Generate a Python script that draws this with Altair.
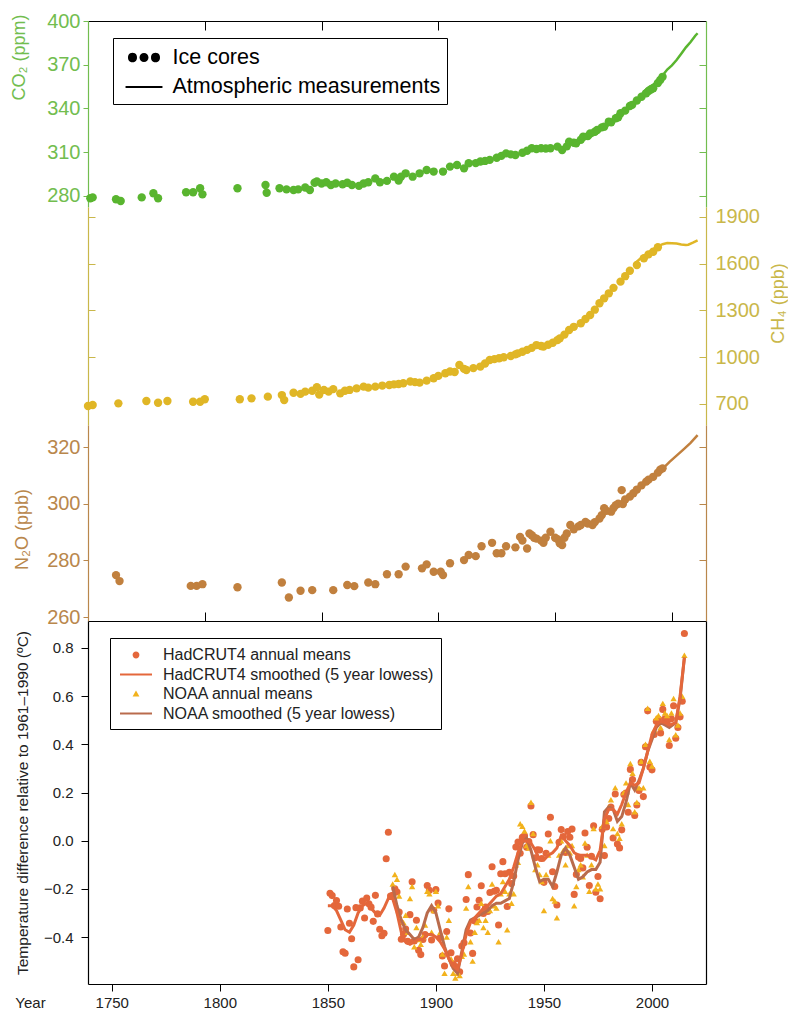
import altair as alt
import pandas as pd

# ---------------- data ----------------
co2_ice_year = [1751, 1752, 1762, 1764, 1773, 1778, 1780, 1792, 1795, 1798, 1799, 1814, 1826, 1826.5,
                1832, 1835, 1838, 1840, 1843, 1845, 1847, 1848, 1850, 1852, 1854, 1856, 1859, 1861, 1863,
                1866, 1868, 1870, 1873, 1875, 1878, 1881, 1883, 1884, 1886, 1889, 1892, 1895, 1898, 1902,
                1905, 1908, 1911, 1913, 1916, 1918, 1920, 1922, 1925, 1927, 1929, 1931, 1933, 1936, 1938,
                1940, 1942, 1944, 1946, 1948, 1951, 1953, 1955, 1956, 1958, 1959, 1961, 1962, 1964, 1965,
                1967, 1968, 1970, 1971, 1973, 1974, 1976, 1977, 1978, 1980, 1982, 1983, 1985, 1987, 1989,
                1990, 1991, 1992, 1994, 1995, 1996]
co2_ice_ppm = [278.4, 279.0, 277.7, 276.5, 279.0, 281.8, 278.4, 282.5, 282.5, 285.3, 281.1, 285.3, 287.5, 282.2,
               285.3, 284.5, 284.1, 284.5, 285.8, 284.1, 289.0, 290.0, 288.5, 289.4, 287.5, 288.5, 288.0, 289.0, 287.5,
               286.9, 288.5, 289.4, 292.0, 289.4, 290.3, 293.2, 290.6, 293.2, 295.5, 293.2, 295.5, 297.8, 296.7, 296.7,
               300.1, 301.2, 298.9, 302.4, 302.5, 303.6, 304.0, 304.7, 306.2, 307.5, 309.2, 308.5, 308.1, 309.6, 311.0,
               312.7, 312.2, 312.7, 312.5, 312.7, 313.8, 311.5, 314.0, 317.2, 316.5, 316.1, 318.5, 320.6, 321.0, 322.9,
               324.0, 325.2, 327.0, 327.5, 331.0, 330.5, 333.3, 334.0, 336.7, 338.5, 341.7, 342.5, 345.5, 348.0, 350.4,
               352.0, 353.0, 353.8, 357.5, 359.5, 361.7]
co2_atm_year = [1958, 1960, 1962, 1964, 1966, 1968, 1970, 1972, 1974, 1976, 1978, 1980, 1982, 1984, 1986,
                1988, 1990, 1992, 1994, 1996, 1998, 2000, 2002, 2004, 2006, 2008, 2010, 2011]
co2_atm_ppm = [315.3, 316.9, 318.4, 319.6, 321.4, 323.0, 325.7, 327.5, 330.2, 332.0, 335.4, 338.7, 341.1, 344.4,
               347.2, 351.6, 354.4, 356.4, 358.8, 362.6, 366.7, 369.6, 373.2, 377.5, 381.9, 385.6, 389.9, 391.6]

ch4_ice_year = [1750, 1752, 1763, 1775, 1780, 1784, 1795, 1798, 1800, 1815, 1820, 1827, 1833, 1834, 1838, 1841,
                1843, 1846, 1848, 1849, 1851, 1853, 1855, 1858, 1860, 1862, 1865, 1868, 1870, 1873, 1876, 1879,
                1881, 1883, 1885, 1888, 1890, 1892, 1895, 1898, 1900, 1903, 1905, 1907, 1909, 1911, 1912, 1915,
                1918, 1920, 1922, 1924, 1926, 1928, 1931, 1933, 1934, 1936, 1938, 1940, 1942, 1944, 1945, 1947,
                1949, 1951, 1952, 1954, 1956, 1958, 1961, 1963, 1965, 1967, 1969, 1971, 1973, 1975, 1978, 1980,
                1982, 1985, 1988, 1990, 1992, 1994]
ch4_ice_ppb = [687, 693, 704, 719, 708, 719, 714, 714, 730, 730, 736, 747, 757, 725, 772, 765,
               779, 785, 807, 760, 790, 779, 795, 768, 785, 790, 800, 811, 805, 811, 818, 822,
               826, 828, 833, 844, 840, 837, 850, 865, 880, 897, 908, 905, 950, 925, 918, 930,
               940, 960, 982, 988, 993, 1000, 1008, 1018, 1025, 1035, 1047, 1060, 1078, 1072, 1068, 1080,
               1093, 1110, 1121, 1145, 1175, 1195, 1218, 1245, 1271, 1305, 1346, 1378, 1410, 1445, 1485, 1520,
               1555, 1592, 1635, 1660, 1677, 1706]
ch4_atm_year = [1984, 1987, 1990, 1993, 1996, 1998, 2000, 2002, 2004, 2006, 2007, 2009, 2011]
ch4_atm_ppb = [1600, 1640, 1672, 1703, 1725, 1733, 1732, 1730, 1724, 1720, 1722, 1735, 1750]

n2o_ice_year = [1762, 1763.5, 1794, 1796.5, 1799, 1814, 1833, 1836, 1841, 1846, 1855, 1861, 1864, 1870, 1873,
                1878, 1883, 1886, 1893, 1895, 1898, 1901, 1902, 1905, 1911, 1913, 1916, 1918.5, 1923, 1925,
                1927, 1929, 1933, 1935, 1936, 1938, 1939, 1940, 1941, 1942, 1944, 1945, 1946, 1948, 1950,
                1951, 1952, 1953, 1954, 1955, 1956.5, 1958, 1960, 1961, 1963, 1964, 1966, 1967, 1969, 1970,
                1971, 1972, 1974, 1975, 1976, 1977, 1978.5, 1979, 1980, 1982, 1983.5, 1985, 1987, 1989, 1990,
                1992, 1994, 1995, 1996]
n2o_ice_ppb = [274.8, 272.7, 271.0, 271.0, 271.6, 270.5, 272.2, 266.9, 269.3, 269.5, 269.5, 271.3, 270.9, 272.2, 271.6,
               275.1, 275.1, 277.8, 277.2, 278.6, 276.0, 276.0, 274.8, 279.0, 280.1, 281.9, 281.5, 285.0, 286.2, 282.5,
               282.5, 285.0, 284.6, 288.3, 287.0, 284.2, 289.5, 288.9, 288.0, 287.7, 287.0, 286.2, 288.0, 290.1, 288.0,
               287.5, 286.0, 285.4, 288.0, 289.5, 292.5, 291.0, 292.0, 292.5, 293.6, 293.0, 292.5, 293.5, 294.8, 296.0,
               298.4, 297.5, 297.2, 298.5, 299.5, 300.0, 304.8, 299.9, 301.5, 302.5, 303.7, 305.0, 306.5, 307.8, 308.5,
               309.5, 311.0, 312.0, 312.5]
n2o_atm_year = [1978, 1981, 1984, 1987, 1990, 1993, 1996, 1999, 2002, 2005, 2008, 2011]
n2o_atm_ppb = [300.5, 302.5, 304.2, 306.2, 308.4, 310.3, 312.3, 314.8, 317.0, 319.2, 321.5, 324.2]

had_year = list(range(1850, 2016))
had_anom = [-0.373, -0.218, -0.228, -0.269, -0.248, -0.272, -0.358, -0.461, -0.467, -0.284,
            -0.343, -0.407, -0.524, -0.278, -0.494, -0.279, -0.251, -0.321, -0.238, -0.262,
            -0.276, -0.335, -0.227, -0.304, -0.368, -0.395, -0.384, -0.075, 0.035, -0.230,
            -0.227, -0.200, -0.213, -0.296, -0.409, -0.389, -0.367, -0.418, -0.307, -0.171,
            -0.416, -0.330, -0.455, -0.473, -0.410, -0.390, -0.186, -0.206, -0.412, -0.289,
            -0.203, -0.259, -0.402, -0.479, -0.520, -0.377, -0.283, -0.465, -0.511, -0.522,
            -0.490, -0.544, -0.437, -0.424, -0.244, -0.141, -0.383, -0.468, -0.333, -0.275,
            -0.247, -0.187, -0.302, -0.276, -0.294, -0.215, -0.108, -0.210, -0.206, -0.350,
            -0.137, -0.087, -0.137, -0.273, -0.131, -0.178, -0.147, -0.026, -0.006, -0.052,
            0.014, 0.020, -0.027, -0.004, 0.144, 0.025, -0.071, -0.038, -0.039, -0.074,
            -0.173, -0.052, 0.028, 0.097, -0.129, -0.190, -0.267, -0.007, 0.046, 0.017,
            -0.049, 0.038, 0.014, 0.048, -0.223, -0.140, -0.068, -0.074, -0.113, 0.032,
            -0.027, -0.186, -0.065, 0.062, -0.214, -0.149, -0.241, 0.047, -0.062, 0.057,
            0.092, 0.140, 0.011, 0.194, -0.014, -0.030, 0.045, 0.192, 0.198, 0.118,
            0.296, 0.254, 0.105, 0.148, 0.208, 0.325, 0.183, 0.390, 0.539, 0.306,
            0.294, 0.441, 0.496, 0.505, 0.447, 0.545, 0.506, 0.491, 0.395, 0.506,
            0.560, 0.425, 0.470, 0.514, 0.579, 0.860]

noaa_year = list(range(1880, 2016))
noaa_anom = [-0.18, -0.14, -0.16, -0.23, -0.33, -0.34, -0.31, -0.38, -0.24, -0.19,
             -0.44, -0.36, -0.41, -0.43, -0.40, -0.35, -0.21, -0.22, -0.38, -0.29,
             -0.21, -0.27, -0.38, -0.47, -0.55, -0.40, -0.33, -0.49, -0.55, -0.57,
             -0.55, -0.56, -0.48, -0.47, -0.28, -0.19, -0.42, -0.50, -0.38, -0.34,
             -0.33, -0.26, -0.36, -0.33, -0.38, -0.29, -0.18, -0.27, -0.28, -0.42,
             -0.22, -0.17, -0.21, -0.37, -0.22, -0.26, -0.22, -0.10, -0.09, 0.07,
             0.06, 0.04, -0.02, -0.03, 0.16, 0.03, -0.12, -0.10, -0.14, -0.17,
             -0.29, -0.14, -0.06, 0.00, -0.24, -0.25, -0.32, -0.06, 0.00, -0.04,
             -0.10, -0.02, -0.05, -0.02, -0.27, -0.19, -0.12, -0.10, -0.15, -0.01,
             -0.06, -0.21, -0.10, 0.05, -0.20, -0.18, -0.20, 0.06, -0.02, 0.08,
             0.14, 0.17, 0.05, 0.22, 0.03, 0.01, 0.07, 0.20, 0.24, 0.15,
             0.32, 0.28, 0.12, 0.16, 0.22, 0.33, 0.22, 0.40, 0.55, 0.33,
             0.31, 0.46, 0.51, 0.52, 0.47, 0.57, 0.53, 0.52, 0.42, 0.53,
             0.59, 0.44, 0.48, 0.53, 0.60, 0.77]

had_s_year = [1850, 1852, 1854, 1856, 1858, 1860, 1862, 1864, 1866, 1868, 1870, 1872, 1874, 1876, 1878,
              1880, 1882, 1884, 1886, 1888, 1890, 1892, 1894, 1896, 1898, 1900, 1902, 1904, 1906, 1908,
              1910, 1912, 1914, 1916, 1918, 1920, 1922, 1924, 1926, 1928, 1930, 1932, 1934, 1936, 1938,
              1940, 1942, 1944, 1946, 1948, 1950, 1952, 1954, 1956, 1958, 1960, 1962, 1964, 1966, 1968,
              1970, 1972, 1974, 1976, 1978, 1980, 1982, 1984, 1986, 1988, 1990, 1992, 1994, 1996, 1998,
              2000, 2002, 2004, 2006, 2008, 2011, 2013, 2015]
had_s_anom = [-0.27, -0.27, -0.29, -0.33, -0.37, -0.38, -0.35, -0.30, -0.27, -0.26, -0.28, -0.30, -0.31, -0.28, -0.24,
              -0.24, -0.30, -0.38, -0.42, -0.43, -0.42, -0.41, -0.41, -0.39, -0.39, -0.40, -0.42, -0.45, -0.49, -0.52,
              -0.535, -0.47, -0.39, -0.34, -0.32, -0.30, -0.28, -0.27, -0.25, -0.23, -0.22, -0.19, -0.16, -0.11, -0.05,
              0.00, 0.00, -0.01, -0.04, -0.08, -0.08, -0.06, -0.05, -0.03, 0.02, 0.00, -0.02, -0.05, -0.06, -0.06,
              -0.06, -0.07, -0.08, -0.04, 0.09, 0.13, 0.13, 0.11, 0.15, 0.20, 0.24, 0.23, 0.24, 0.30, 0.37,
              0.44, 0.48, 0.495, 0.49, 0.48, 0.49, 0.60, 0.76]

noaa_s_year = [1880, 1882, 1884, 1886, 1888, 1890, 1892, 1894, 1896, 1898, 1900, 1902, 1904, 1906, 1908,
               1910, 1912, 1914, 1916, 1918, 1920, 1922, 1924, 1926, 1928, 1930, 1932, 1934, 1936, 1938,
               1940, 1942, 1944, 1946, 1948, 1950, 1952, 1954, 1956, 1958, 1960, 1962, 1964, 1966, 1968,
               1970, 1972, 1974, 1976, 1978, 1980, 1982, 1984, 1986, 1988, 1990, 1992, 1994, 1996, 1998,
               2000, 2002, 2004, 2006, 2008, 2011, 2013, 2015]
noaa_s_anom = [-0.19, -0.27, -0.33, -0.37, -0.39, -0.41, -0.40, -0.36, -0.30, -0.27, -0.30, -0.37, -0.44, -0.49, -0.53,
               -0.55, -0.46, -0.37, -0.33, -0.32, -0.31, -0.30, -0.29, -0.27, -0.26, -0.26, -0.25, -0.24, -0.17, -0.08,
               -0.01, 0.01, -0.04, -0.11, -0.17, -0.16, -0.16, -0.19, -0.13, -0.06, -0.03, -0.06, -0.11, -0.16, -0.15,
               -0.13, -0.12, -0.12, -0.09, 0.12, 0.14, 0.13, 0.08, 0.10, 0.16, 0.24, 0.21, 0.25, 0.30, 0.37,
               0.42, 0.47, 0.49, 0.48, 0.47, 0.49, 0.59, 0.76]

top_legend_labels = ["Ice cores", "Atmospheric measurements"]
bot_legend_labels = ["HadCRUT4 annual means", "HadCRUT4 smoothed (5 year lowess)",
                     "NOAA annual means", "NOAA smoothed (5 year lowess)"]

co2_ticks = [280, 310, 340, 370, 400]
ch4_ticks = [700, 1000, 1300, 1600, 1900]
n2o_ticks = [260, 280, 300, 320]
t_ticks = [-0.4, -0.2, 0.0, 0.2, 0.4, 0.6, 0.8]
year_ticks_top = [1800, 1850, 1900, 1950, 2000]
year_ticks_bot = [1750, 1800, 1850, 1900, 1950, 2000]

# ---------------- layout / style ----------------
W, H = 618, 963
TOP_X = [1750, 2014.6]
BOT_X = [1739, 2025]
CO2_DOM, CO2_RNG = [272.4, 400], [186, 0]
CH4_DOM, CH4_RNG = [565, 1964], [404, 186]
N2O_DOM, N2O_RNG = [258.6, 327.8], [600, 404]
T_DOM, T_RNG = [-0.595, 0.912], [963, 600]

FONT = "Liberation Sans"
GREEN, GREEN_T = "#59b52f", "#72bd4f"
YEL, YEL_T = "#e0b626", "#c9b74a"
BRN, BRN_T = "#c1803e", "#b9874c"
HAD, NOAA_P, NOAA_L = "#e4673b", "#f2b21c", "#b96b4c"

# legend symbols (unit box is [-1, 1]; drawn wider than the box on purpose)
DOTS = ("M -1.23,0 A 0.346,0.346 0 1,0 -0.54,0 A 0.346,0.346 0 1,0 -1.23,0 Z "
        "M -0.346,0 A 0.346,0.346 0 1,0 0.346,0 A 0.346,0.346 0 1,0 -0.346,0 Z "
        "M 0.54,0 A 0.346,0.346 0 1,0 1.23,0 A 0.346,0.346 0 1,0 0.54,0 Z")
TLINE = "M -1.42,-0.08 L 1.42,-0.08 L 1.42,0.08 L -1.42,0.08 Z"
CIRC = "M -0.34,0 A 0.34,0.34 0 1,0 0.34,0 A 0.34,0.34 0 1,0 -0.34,0 Z"
TRI = "M 0,-0.36 L 0.34,0.26 L -0.34,0.26 Z"
BLINE = "M -1.6,-0.1 L 1.6,-0.1 L 1.6,0.1 L -1.6,0.1 Z"


def xs(dom):
    return alt.Scale(domain=dom, nice=False, zero=False)


def ys(dom, rng):
    return alt.Scale(domain=dom, range=rng, nice=False, zero=False)


def mirror_axis(values, color, orient):
    return alt.Axis(orient=orient, offset=-W, values=values, labels=False, tickSize=7,
                    tickColor=color, domainColor=color, grid=False, title=None)


def label_axis(values, color, tcolor, title, titleX, titleY):
    return alt.Axis(orient="left", values=values, tickSize=5, labelPadding=3, labelFontSize=20,
                    labelColor=tcolor, tickColor=color, domainColor=color, grid=False,
                    title=title, titleColor=tcolor, titleFontSize=18, titleFontWeight="normal",
                    titleAngle=270, titleX=titleX, titleY=titleY, titleAlign="center",
                    titleBaseline="middle")


co2_ice = pd.DataFrame({"year": co2_ice_year, "v": co2_ice_ppm})
co2_atm = pd.DataFrame({"year": co2_atm_year, "v": co2_atm_ppm})
ch4_ice = pd.DataFrame({"year": ch4_ice_year, "v": ch4_ice_ppb})
ch4_atm = pd.DataFrame({"year": ch4_atm_year, "v": ch4_atm_ppb})
n2o_ice = pd.DataFrame({"year": n2o_ice_year, "v": n2o_ice_ppb})
n2o_atm = pd.DataFrame({"year": n2o_atm_year, "v": n2o_atm_ppb})
had = pd.DataFrame({"year": had_year, "v": had_anom})
noaa = pd.DataFrame({"year": noaa_year, "v": noaa_anom})
had_s = pd.DataFrame({"year": had_s_year, "v": had_s_anom})
noaa_s = pd.DataFrame({"year": noaa_s_year, "v": noaa_s_anom})

layers = []

# CO2
layers.append(alt.Chart(co2_ice).mark_circle(size=70, opacity=1, color=GREEN).encode(
    x=alt.X("year:Q", scale=xs(TOP_X),
            axis=alt.Axis(orient="bottom", offset=-H, values=year_ticks_top, labels=False, tickSize=9,
                          tickColor="black", domainColor="black", grid=False, title=None)),
    y=alt.Y("v:Q", scale=ys(CO2_DOM, CO2_RNG),
            axis=label_axis(co2_ticks, GREEN_T, GREEN_T, "CO₂ (ppm)", -69, 36))))
layers.append(alt.Chart(co2_atm).mark_line(strokeWidth=2.5, color=GREEN).encode(
    x=alt.X("year:Q", scale=xs(TOP_X),
            axis=alt.Axis(orient="top", offset=-600, values=year_ticks_top, labels=False, tickSize=9,
                          tickColor="black", domainColor="black", grid=False, title=None)),
    y=alt.Y("v:Q", scale=ys(CO2_DOM, CO2_RNG), axis=mirror_axis(co2_ticks[:-1], GREEN_T, "left"))))

# CH4
layers.append(alt.Chart(ch4_ice).mark_circle(size=70, opacity=1, color=YEL).encode(
    x=alt.X("year:Q", scale=xs(TOP_X), axis=None),
    y=alt.Y("v:Q", scale=ys(CH4_DOM, CH4_RNG), axis=mirror_axis(ch4_ticks, YEL_T, "right"))))
layers.append(alt.Chart(ch4_atm).mark_line(strokeWidth=2.5, color=YEL).encode(
    x=alt.X("year:Q", scale=xs(TOP_X), axis=None),
    y=alt.Y("v:Q", scale=ys(CH4_DOM, CH4_RNG),
            axis=alt.Axis(orient="left", offset=-W, values=ch4_ticks, format="d", tickSize=7,
                          tickColor=YEL_T, domainColor=YEL_T, labelAlign="left", labelPadding=-16,
                          labelFontSize=20, labelColor=YEL_T, grid=False, title="CH₄ (ppb)",
                          titleColor=YEL_T, titleFontSize=18, titleFontWeight="normal", titleAngle=270,
                          titleX=72, titleY=282, titleAlign="center", titleBaseline="middle"))))

# N2O
layers.append(alt.Chart(n2o_ice).mark_circle(size=70, opacity=1, color=BRN).encode(
    x=alt.X("year:Q", scale=xs(TOP_X), axis=None),
    y=alt.Y("v:Q", scale=ys(N2O_DOM, N2O_RNG),
            axis=label_axis(n2o_ticks, BRN_T, BRN_T, "N₂O (ppb)", -66, 508))))
layers.append(alt.Chart(n2o_atm).mark_line(strokeWidth=2.5, color=BRN).encode(
    x=alt.X("year:Q", scale=xs(TOP_X), axis=None),
    y=alt.Y("v:Q", scale=ys(N2O_DOM, N2O_RNG), axis=mirror_axis([280, 300, 320], BRN_T, "left"))))

# Temperature
layers.append(alt.Chart(had).mark_circle(size=50, opacity=1, color=HAD).encode(
    x=alt.X("year:Q", scale=xs(BOT_X),
            axis=alt.Axis(orient="bottom", values=year_ticks_bot, format="d", tickSize=7, labelPadding=4,
                          labelFontSize=15, labelColor="#222", tickColor="black", domainColor="black",
                          grid=False, title="Year", titleFontSize=15, titleFontWeight="normal",
                          titleColor="#222", titleX=-58, titleY=18, titleAlign="center",
                          titleBaseline="middle")),
    y=alt.Y("v:Q", scale=ys(T_DOM, T_RNG),
            axis=alt.Axis(orient="left", values=t_ticks, format=".1f", tickSize=7, labelPadding=8,
                          labelFontSize=15, labelColor="#222", tickColor="black", domainColor="black",
                          grid=False, title="Temperature difference relative to 1961–1990 (ºC)",
                          titleFontSize=15.5, titleFontWeight="normal", titleColor="#222",
                          titleAngle=270, titleX=-66, titleAlign="center", titleBaseline="middle"))))
layers.append(alt.Chart(noaa).mark_point(shape="triangle-up", filled=True, size=40, opacity=1,
                                         color=NOAA_P).encode(
    x=alt.X("year:Q", scale=xs(BOT_X), axis=None),
    y=alt.Y("v:Q", scale=ys(T_DOM, T_RNG),
            axis=alt.Axis(orient="right", ticks=False, labels=False, domainColor="black",
                          grid=False, title=None))))
layers.append(alt.Chart(noaa_s).mark_line(strokeWidth=3, color=NOAA_L).encode(
    x=alt.X("year:Q", scale=xs(BOT_X), axis=None),
    y=alt.Y("v:Q", scale=ys(T_DOM, T_RNG), axis=None)))
layers.append(alt.Chart(had_s).mark_line(strokeWidth=3, color=HAD).encode(
    x=alt.X("year:Q", scale=xs(BOT_X), axis=None),
    y=alt.Y("v:Q", scale=ys(T_DOM, T_RNG), axis=None)))

# legends (their marks sit outside the view and are clipped; only the legends show)
top_leg_df = pd.DataFrame({"tk": top_legend_labels, "lx": [0, 0], "ly": [0, 0]})
top_leg = alt.Legend(title=None, orient="none", legendX=25, legendY=17, strokeColor="black",
                     padding=6.5, symbolSize=676, symbolOffset=11.5, symbolStrokeWidth=0,
                     labelFontSize=21.5, labelLimit=600, labelOffset=15.5, rowPadding=5.5,
                     labelColor="black")
layers.append(alt.Chart(top_leg_df).mark_point(filled=True, clip=True, opacity=1, color="black").encode(
    x=alt.X("lx:Q", scale=alt.Scale(domain=[1, 2]), axis=None),
    y=alt.Y("ly:Q", scale=alt.Scale(domain=[1, 2]), axis=None),
    shape=alt.Shape("tk:N", scale=alt.Scale(domain=top_legend_labels, range=[DOTS, TLINE]),
                    legend=top_leg)))

bot_leg_df = pd.DataFrame({"bk": bot_legend_labels, "lx": [0] * 4, "ly": [0] * 4})
bot_leg = alt.Legend(title=None, orient="none", legendX=22, legendY=617, strokeColor="black",
                     padding=7, symbolSize=400, symbolOffset=9, symbolStrokeWidth=0,
                     labelFontSize=16, labelLimit=600, labelOffset=17, rowPadding=1.5,
                     labelColor="#222")
layers.append(alt.Chart(bot_leg_df).mark_point(filled=True, clip=True, opacity=1).encode(
    x=alt.X("lx:Q", scale=alt.Scale(domain=[1, 2]), axis=None),
    y=alt.Y("ly:Q", scale=alt.Scale(domain=[1, 2]), axis=None),
    shape=alt.Shape("bk:N", scale=alt.Scale(domain=bot_legend_labels, range=[CIRC, BLINE, TRI, BLINE]),
                    legend=bot_leg),
    color=alt.Color("bk:N", scale=alt.Scale(domain=bot_legend_labels, range=[HAD, HAD, NOAA_P, NOAA_L]),
                    legend=bot_leg)))

chart = alt.layer(*layers).resolve_scale(
    x="independent", y="independent", shape="independent", color="independent"
).properties(
    width=W, height=H,
    autosize=alt.AutoSizeParams(type="none"),
    padding={"left": 80, "top": 13, "right": 82, "bottom": 26},
).configure(font=FONT).configure_view(stroke=None).configure_axis(grid=False, domainWidth=1.2)

chart.save("out.html", embed_options={"renderer": "svg", "actions": False})
